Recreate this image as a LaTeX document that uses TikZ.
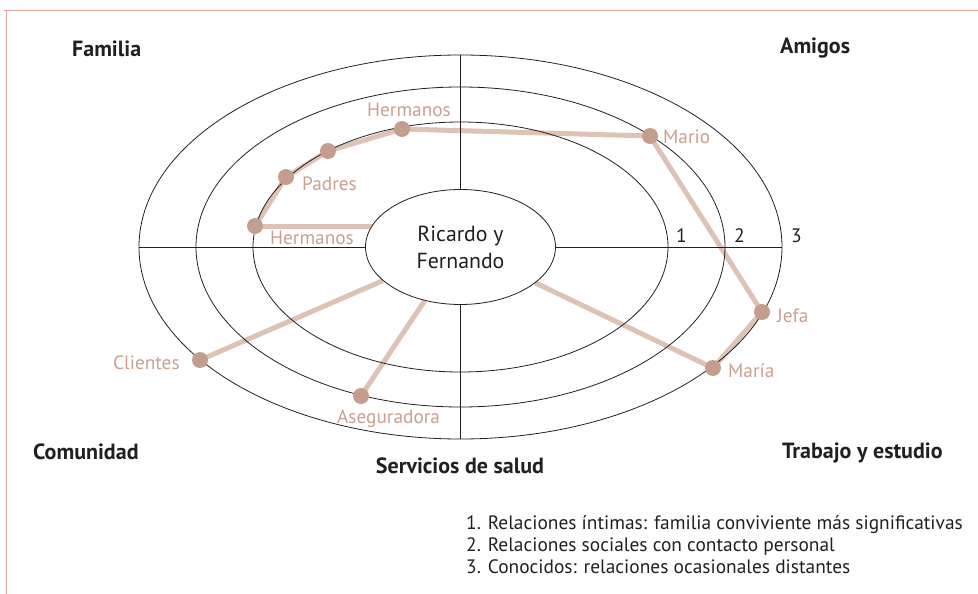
\documentclass[tikz,border=0pt]{standalone}
\usepackage{fontspec}
\usetikzlibrary{shapes.geometric}
\setmainfont{PT Sans}
\definecolor{frame}{RGB}{217,166,150}
\definecolor{dotc}{RGB}{196,158,140}
\definecolor{linkc}{RGB}{221,194,181}
\definecolor{labc}{RGB}{201,160,143}
\definecolor{ink}{RGB}{35,31,32}
\pgfdeclarelayer{back}
\pgfsetlayers{back,main}
\tikzset{
  ring/.style={draw=ink,line width=0.8pt},
  link/.style={draw=linkc,line width=5pt},
  person/.style={circle,fill=dotc,minimum size=16pt,inner sep=0pt},
  plab/.style={text=labc,font=\fontsize{19.3}{21}\selectfont,inner sep=0pt},
  quad/.style={text=ink,font=\fontsize{22}{24}\selectfont\bfseries,inner sep=0pt},
  legend/.style={text=ink,font=\fontsize{19.4}{21}\selectfont,inner sep=0pt,anchor=base west},
  num/.style={text=ink,font=\fontsize{19.5}{21}\selectfont,inner sep=0pt,anchor=base west}
}
\begin{document}
\begin{tikzpicture}[x=1pt,y=-1pt]
\useasboundingbox (0,0) rectangle (978,594);
% frame
\draw[frame,line width=1pt] (4,11) -- (978,11);
\draw[frame,line width=1pt] (6,11) -- (6,594);
% rings
\coordinate (o) at (460.5,247);
\draw[ring] (o) ellipse [x radius=207.5,y radius=125];
\draw[ring] (o) ellipse [x radius=264.5,y radius=160];
\draw[ring] (o) ellipse [x radius=321.5,y radius=192];
% center
\node[ellipse,draw=ink,line width=0.8pt,fill=white,minimum width=190pt,minimum height=115pt,inner sep=0pt,
      align=center,text=ink,font=\fontsize{21.8}{27}\selectfont] (c) at (o) {Ricardo y\\Fernando};
% axes
\coordinate (ntop) at (460.5,55);
\coordinate (nbot) at (460.5,439);
\coordinate (wl) at (139,247);
\coordinate (el) at (782,247);
\draw[ring] (ntop) -- (c.north);
\draw[ring] (c.south) -- (nbot);
\draw[ring] (wl) -- (c.west);
\draw[ring] (c.east) -- (el);
% numbers
\node[num] (n1) at (676,242) {1};
\node[num] (n2) at (734,242) {2};
\node[num] (n3) at (791,242) {3};
% persons
\node[person] (ht) at (402,129) {};
\node[person] (pa) at (328,151) {};
\node[person] (pd) at (286,177) {};
\node[person] (hb) at (255,226) {};
\node[person] (ma) at (650,136) {};
\node[person] (je) at (762,312) {};
\node[person] (mr) at (713,368) {};
\node[person] (cl) at (200,360) {};
\node[person] (as) at (361,396) {};
% links
\begin{pgfonlayer}{back}
\draw[link] (hb.center) -- (hb.center -| c.center);
\draw[link] (hb.center) -- (pd.center) -- (pa.center) -- (ht.center) -- (ma.center) -- (je.center) -- (mr.center);
\draw[link] (mr.center) -- (c);
\draw[link] (cl.center) -- (c);
\draw[link] (as.center) -- (c);
\end{pgfonlayer}
% person labels
\node[plab,anchor=base west] (lht) at (367,117) {Hermanos};
\node[plab,anchor=base west] (lpd) at (302,190) {Padres};
\node[plab,anchor=base west] (lhb) at (270,244) {Hermanos};
\node[plab,anchor=base west] (lma) at (663,143) {Mario};
\node[plab,anchor=base west] (lje) at (777,322) {Jefa};
\node[plab,anchor=base west] (lmr) at (728,377) {María};
\node[plab,anchor=base west] (lcl) at (113,369) {Clientes};
\node[plab,anchor=base west] (las) at (337,423) {Aseguradora};
% quadrant labels
\node[quad,anchor=base west] (qf) at (72,57) {Familia};
\node[quad,anchor=base west] (qa) at (780,54) {Amigos};
\node[quad,anchor=base west] (qc) at (33,459) {Comunidad};
\node[quad,anchor=base] (qs) at (460,473) {Servicios de salud};
\node[quad,anchor=base west] (qt) at (782,458) {Trabajo y estudio};
% legend
\node[legend] (l1) at (466,529) {1. Relaciones íntimas: familia conviviente más significativas};
\node[legend] (l2) at (466,551) {2. Relaciones sociales con contacto personal};
\node[legend] (l3) at (466,573) {3. Conocidos: relaciones ocasionales distantes};
\end{tikzpicture}
\end{document}
